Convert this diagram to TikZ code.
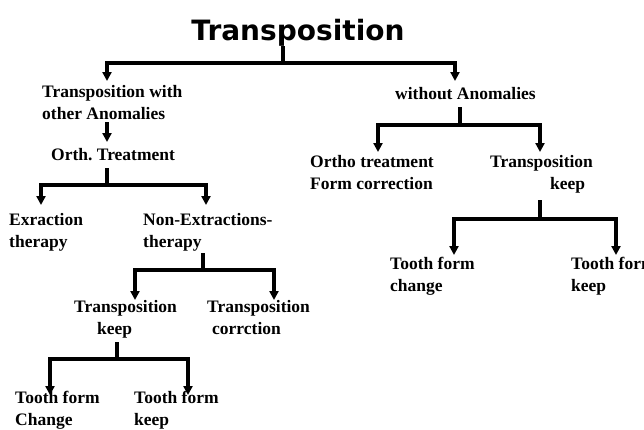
\documentclass[tikz,border=0pt]{standalone}
\usepackage{fontspec}
\setmainfont{Liberation Serif}
\newfontfamily\titlefont{DejaVu Sans}
\usetikzlibrary{arrows.meta}
\begin{document}
\begin{tikzpicture}[x=1pt,y=-1pt,
  lbl/.style={font=\bfseries\fontsize{17.5}{21.5}\selectfont, inner sep=0pt, align=left, anchor=base west},
  conn/.style={line width=3.2pt},
  arr/.style={conn, -{Triangle[width=9pt,length=9pt]}}]
\useasboundingbox (0,0) rectangle (644,429);
\node[font=\titlefont\bfseries\fontsize{28}{30}\selectfont, inner sep=0pt, anchor=base] (title) at (298,40) {Transposition};
% level 1
\node[lbl] (twa) at (42,119) {Transposition with\\other Anomalies};
\node[lbl] (woa) at (395,99) {without Anomalies};
\coordinate (t0) at (283,46);
\coordinate (j0) at (283,63);
\coordinate (a1) at (107,81);
\coordinate (a2) at (455,81);
\draw[conn] (t0) -- (j0);
\draw[arr] (j0) -| (a1);
\draw[arr] (j0) -| (a2);
% left branch
\node[lbl] (orth) at (51,160) {Orth.\ Treatment};
\coordinate (b0) at (107,122);
\coordinate (b1) at (107,142);
\draw[arr] (b0) -- (b1);
\node[lbl] (exr) at (9,247) {Exraction\\therapy};
\node[lbl] (nonex) at (143,247) {Non-Extractions-\\therapy};
\coordinate (c0) at (107,168);
\coordinate (cj) at (107,185);
\coordinate (c1) at (41,205);
\coordinate (c2) at (206,205);
\draw[conn] (c0) -- (cj);
\draw[arr] (cj) -| (c1);
\draw[arr] (cj) -| (c2);
\node[lbl] (tkeep) at (74,334) {Transposition\\\hspace*{23pt}keep};
\node[lbl] (tcorr) at (207,334) {Transposition\\\hspace*{5pt}corrction};
\coordinate (d0) at (203,253);
\coordinate (dj) at (203,270);
\coordinate (d1) at (135,300);
\coordinate (d2) at (274,300);
\draw[conn] (d0) -- (dj);
\draw[arr] (dj) -| (d1);
\draw[arr] (dj) -| (d2);
\node[lbl] (tfc) at (15,425) {Tooth form\\Change};
\node[lbl] (tfk) at (134,425) {Tooth form\\keep};
\coordinate (e0) at (117,342);
\coordinate (ej) at (117,359);
\coordinate (e1) at (50,395);
\coordinate (e2) at (188,395);
\draw[conn] (e0) -- (ej);
\draw[arr] (ej) -| (e1);
\draw[arr] (ej) -| (e2);
% right branch
\node[lbl] (otfc) at (310,189) {Ortho treatment\\Form correction};
\node[lbl] (rtk) at (490,189) {Transposition\\\hspace*{60pt}keep};
\coordinate (f0) at (460,107);
\coordinate (fj) at (460,125);
\coordinate (f1) at (378,152);
\coordinate (f2) at (540,152);
\draw[conn] (f0) -- (fj);
\draw[arr] (fj) -| (f1);
\draw[arr] (fj) -| (f2);
\node[lbl] (rtfc) at (390,291) {Tooth form\\change};
\node[lbl] (rtfk) at (571,291) {Tooth form\\keep};
\coordinate (g0) at (540,200);
\coordinate (gj) at (540,219);
\coordinate (g1) at (454,255);
\coordinate (g2) at (616,255);
\draw[conn] (g0) -- (gj);
\draw[arr] (gj) -| (g1);
\draw[arr] (gj) -| (g2);
\end{tikzpicture}
\end{document}
